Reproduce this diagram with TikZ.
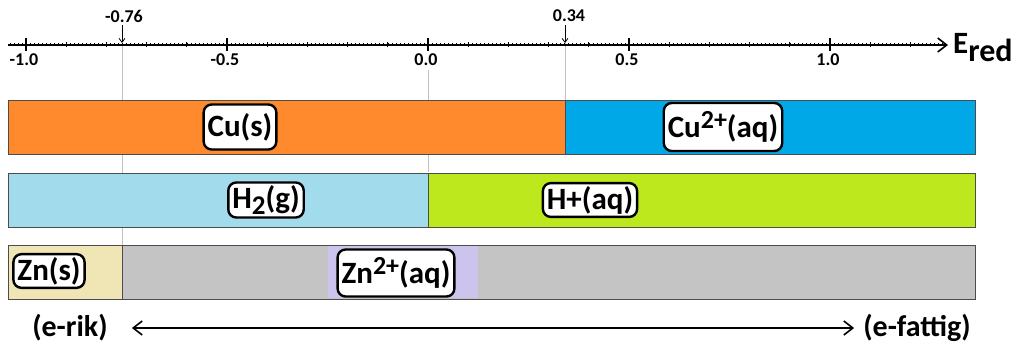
\documentclass[tikz,border=0pt]{standalone}
\usepackage{fontspec}
\setmainfont{Carlito}
\usetikzlibrary{positioning,arrows.meta}
\definecolor{cuorange}{HTML}{FF8A2E}
\definecolor{cublue}{HTML}{00A8E8}
\definecolor{hblue}{HTML}{A2DCEC}
\definecolor{hgreen}{HTML}{BEE81E}
\definecolor{znbeige}{HTML}{EFE5B5}
\definecolor{zngray}{HTML}{C4C4C4}
\definecolor{znlav}{HTML}{CCC4EC}
\newcommand{\ionsup}[1]{\raisebox{9pt}{\fontsize{26}{26}\selectfont #1}}
\newcommand{\ionsub}[1]{\raisebox{-6pt}{\fontsize{27}{27}\selectfont #1}}
\tikzset{
	species/.style={draw=black, line width=2.4pt, fill=white, rounded corners=8pt,
		inner xsep=4pt, inner ysep=3pt, font=\fontsize{31}{31}\selectfont\bfseries},
	bar/.style={draw=black!70, line width=0.8pt},
	guide/.style={draw=black!25, line width=1pt},
	ticklbl/.style={font=\fontsize{18}{18}\selectfont\bfseries, inner sep=0pt},
	endlbl/.style={font=\fontsize{30}{30}\selectfont\bfseries, inner sep=0pt},
	barb/.tip={Straight Barb[length=9pt, width=14pt, line width=1.6pt]}
}
\begin{document}
\begin{tikzpicture}[x=1pt, y=-1pt]
	\useasboundingbox (0,0) rectangle (1024,362);
	% guide lines at the marked potentials
	\draw[guide] (122,43) -- (122,245);
	\draw[guide] (428,70) -- (428,172);
	\draw[guide] (565,43) -- (565,100);
	% axis
	\coordinate (axstart) at (8,45);
	\node[anchor=west, inner sep=0pt] (ered) at (953,48)
		{\fontsize{31}{31}\selectfont\bfseries E\raisebox{-8pt}{\fontsize{32}{32}\selectfont red}};
	\draw[line width=1.5pt, -barb] (axstart) -- (948,45);
	\foreach \i in {-104, ..., 128}
		\draw[line width=0.6pt] ({428+4.02*\i}, 45) -- ++(0, -2);
	\foreach \i in {-10, ..., 12}
		\draw[line width=0.8pt] ({428+40.2*\i}, 42) -- ++(0, 5);
	\foreach \v/\t in {-1/-1.0, -0.5/-0.5, 0/0.0, 0.5/0.5, 1/1.0}
	{
		\draw[line width=1.5pt] ({428+402*\v}, 38) -- ++(0, 13);
		\node[ticklbl] at ({426+402*\v}, 60) {\t};
	}
	% marked values
	\node[ticklbl] (lzn) at (124,16) {-0.76};
	\node[ticklbl] (lcu) at (569,16) {0.34};
	\coordinate (pzn) at (122,43);
	\coordinate (pcu) at (565,43);
	\draw[line width=0.8pt, -{Straight Barb[length=4pt, width=6pt]}] (lzn.south -| pzn) ++(0,3) -- (pzn);
	\draw[line width=0.8pt, -{Straight Barb[length=4pt, width=6pt]}] (lcu.south -| pcu) ++(0,3) -- (pcu);
	% bars
	\path[bar, fill=cuorange] (8,100) rectangle (565,154);
	\path[bar, fill=cublue] (565,100) rectangle (975,154);
	\path[bar, fill=hblue] (8,173) rectangle (428,227);
	\path[bar, fill=hgreen] (428,173) rectangle (975,227);
	\path[bar, fill=znbeige] (8,245) rectangle (122,299);
	\path[bar, fill=zngray] (122,245) rectangle (975,299);
	\fill[znlav] (328,246) rectangle (478,298);
	% species
	\node[species, minimum height=45pt] (cus) at (240,127) {Cu(s)};
	\node[species, minimum height=48pt] (cuaq) at (723,127) {Cu\ionsup{2+}(aq)};
	\node[species] (htwo) at (266,200) {H\ionsub{2}(g)};
	\node[species] (hplus) at (590,200) {H+(aq)};
	\node[species] (zns) at (49,271) {Zn(s)};
	\node[species, minimum height=47pt] (znaq) at (396,273) {Zn\ionsup{2+}(aq)};
	% electron direction
	\node[endlbl] (erik) at (70,328) {(e-rik)};
	\node[endlbl] (efattig) at (917,328) {(e-fattig)};
	\draw[line width=1.6pt, barb-barb, shorten <=24pt, shorten >=9pt] (erik) -- (efattig);
\end{tikzpicture}
\end{document}
